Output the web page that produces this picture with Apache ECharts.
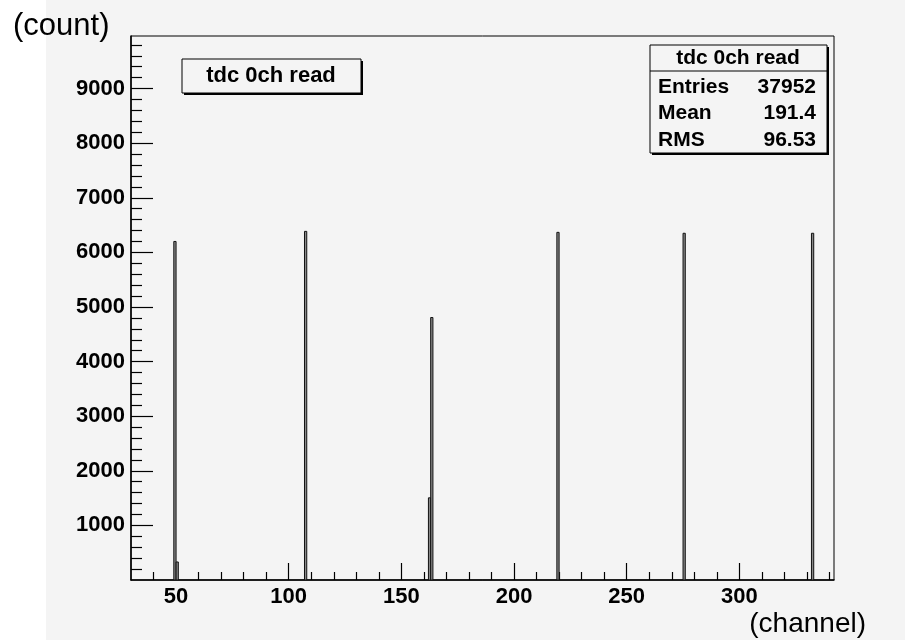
<!DOCTYPE html>
<html>
<head>
<meta charset="utf-8">
<script src="https://cdn.jsdelivr.net/npm/echarts@6/dist/echarts.min.js"></script>
<style>
html,body{margin:0;padding:0;background:#fff;}
#c{width:905px;height:643px;}
</style>
</head>
<body>
<div id="c"></div>
<script>
// Histogram bins (lower edge, width 1 channel) and their counts
const binLow = [49, 50, 107, 162, 163, 219, 275, 332];
const counts = [6200, 330, 6385, 1505, 4807, 6367, 6350, 6350];
const xMajorTicks = [50, 100, 150, 200, 250, 300];
const xMinorTicks = [40, 60, 70, 80, 90, 110, 120, 130, 140, 160, 170, 180, 190, 210, 220, 230, 240, 260, 270, 280, 290, 310, 320, 330, 340];
const yMajorTicks = [1000, 2000, 3000, 4000, 5000, 6000, 7000, 8000, 9000];
const yMinorTicks = [200, 400, 600, 800, 1200, 1400, 1600, 1800, 2200, 2400, 2600, 2800, 3200, 3400, 3600, 3800, 4200, 4400, 4600, 4800, 5200, 5400, 5600, 5800, 6200, 6400, 6600, 6800, 7200, 7400, 7600, 7800, 8200, 8400, 8600, 8800, 9200, 9400, 9600, 9800];
const statsTitle = 'tdc 0ch read';
const statsNames = ['Entries', 'Mean', 'RMS'];
const statsValues = ['37952', '191.4', '96.53'];

const FONT = '"Liberation Sans", Arial, sans-serif';
const X_MIN = 30, X_MAX = 342, Y_MIN = 0, Y_MAX = 9963;

const histData = binLow.map((b, i) => [b, b + 1, counts[i]]);

const chart = echarts.init(document.getElementById('c'), null, {renderer: 'canvas'});

const statsRows = [];
statsNames.forEach((n, i) => {
  const cy = 87 + i * 26.5;
  statsRows.push({type: 'text', z: 101, style: {x: 658, y: cy, text: n, font: 'bold 21px ' + FONT, fill: '#000', textAlign: 'left', textVerticalAlign: 'middle'}});
  statsRows.push({type: 'text', z: 101, style: {x: 816, y: cy, text: statsValues[i], font: 'bold 21px ' + FONT, fill: '#000', textAlign: 'right', textVerticalAlign: 'middle'}});
});

const plainNum = v => String(v);

chart.setOption({
  backgroundColor: '#ffffff',
  animation: false,
  grid: {left: 131, top: 36, right: 71, bottom: 63, show: true, borderColor: '#000', borderWidth: 1, backgroundColor: 'transparent', containLabel: false},
  xAxis: [
    {type: 'value', min: X_MIN, max: X_MAX, position: 'bottom',
     axisLine: {show: true, onZero: false, lineStyle: {color: '#000', width: 1.5}},
     axisTick: {show: true, inside: true, length: 17, customValues: xMajorTicks, lineStyle: {color: '#000', width: 1.2}},
     axisLabel: {show: true, customValues: xMajorTicks, formatter: plainNum, margin: 6, color: '#000', fontFamily: FONT, fontWeight: 'bold', fontSize: 22},
     splitLine: {show: false}},
    {type: 'value', min: X_MIN, max: X_MAX, position: 'bottom',
     axisLine: {show: false},
     axisTick: {show: true, inside: true, length: 8, customValues: xMinorTicks, lineStyle: {color: '#000', width: 1.2}},
     axisLabel: {show: false},
     splitLine: {show: false}}
  ],
  yAxis: [
    {type: 'value', min: Y_MIN, max: Y_MAX, position: 'left',
     axisLine: {show: true, onZero: false, lineStyle: {color: '#000', width: 1.5}},
     axisTick: {show: true, inside: true, length: 22, customValues: yMajorTicks, lineStyle: {color: '#000', width: 1.2}},
     axisLabel: {show: true, customValues: yMajorTicks, formatter: plainNum, margin: 6, color: '#000', fontFamily: FONT, fontWeight: 'bold', fontSize: 22},
     splitLine: {show: false}},
    {type: 'value', min: Y_MIN, max: Y_MAX, position: 'left',
     axisLine: {show: false},
     axisTick: {show: true, inside: true, length: 11, customValues: yMinorTicks, lineStyle: {color: '#000', width: 1.2}},
     axisLabel: {show: false},
     splitLine: {show: false}}
  ],
  series: [{
    type: 'custom',
    xAxisIndex: 0, yAxisIndex: 0,
    data: histData,
    clip: true,
    renderItem: function (params, api) {
      const p0 = api.coord([api.value(0), 0]);
      const p1 = api.coord([api.value(1), api.value(2)]);
      return {
        type: 'rect',
        shape: {x: p0[0], y: p1[1], width: p1[0] - p0[0], height: p0[1] - p1[1]},
        style: {fill: '#888', stroke: '#111', lineWidth: 1}
      };
    }
  }],
  graphic: [
    {type: 'rect', z: -10, silent: true, shape: {x: 46, y: 0, width: 859, height: 640}, style: {fill: '#f4f4f4'}},
    {type: 'text', z: 100, style: {x: 13, y: 26, text: '(count)', font: '31px "Liberation Sans", Arial, sans-serif', fill: '#000', textAlign: 'left', textVerticalAlign: 'middle'}},
    {type: 'text', z: 100, style: {x: 866, y: 624, text: '(channel)', font: '28px "Liberation Sans", Arial, sans-serif', fill: '#000', textAlign: 'right', textVerticalAlign: 'middle'}},
    // legend box with shadow
    {type: 'rect', z: 99, shape: {x: 184, y: 61, width: 179, height: 34}, style: {fill: '#000'}},
    {type: 'rect', z: 100, shape: {x: 182, y: 59, width: 179, height: 34}, style: {fill: '#f4f4f4', stroke: '#000', lineWidth: 1}},
    {type: 'text', z: 101, style: {x: 271, y: 76, text: statsTitle, font: 'bold 22px ' + FONT, fill: '#000', textAlign: 'center', textVerticalAlign: 'middle'}},
    // stats box with shadow
    {type: 'rect', z: 99, shape: {x: 652, y: 47, width: 177, height: 108}, style: {fill: '#000'}},
    {type: 'rect', z: 100, shape: {x: 650, y: 45, width: 177, height: 108}, style: {fill: '#f4f4f4', stroke: '#000', lineWidth: 1}},
    {type: 'line', z: 101, shape: {x1: 650, y1: 71, x2: 827, y2: 71}, style: {stroke: '#000', lineWidth: 1}},
    {type: 'text', z: 101, style: {x: 738, y: 58, text: statsTitle, font: 'bold 21px ' + FONT, fill: '#000', textAlign: 'center', textVerticalAlign: 'middle'}}
  ].concat(statsRows)
});
</script>
</body>
</html>
